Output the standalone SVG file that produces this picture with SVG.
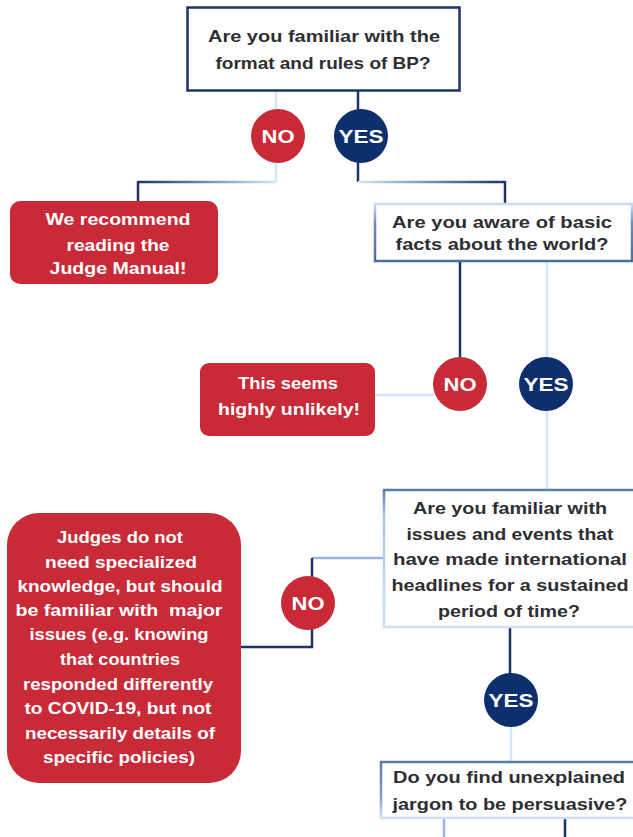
<svg xmlns="http://www.w3.org/2000/svg" width="633" height="837" viewBox="0 0 633 837">
<style>
.q{fill:#fff}
.qt{font-family:"Liberation Sans",Arial,sans-serif;font-weight:700;font-size:17px;fill:#2e2e33;text-anchor:middle;dominant-baseline:central}
.rt{font-family:"Liberation Sans",Arial,sans-serif;font-weight:700;font-size:16px;fill:#fff;text-anchor:middle;dominant-baseline:central;white-space:pre}
.ct{font-family:"Liberation Sans",Arial,sans-serif;font-weight:700;font-size:19px;fill:#fff;text-anchor:middle;dominant-baseline:central}
.red{fill:#c92a38}
.no{fill:#c92a38}
.yes{fill:#0d2f6e}
.dk{stroke:#1b3563;stroke-width:2.5;fill:none}
.lt{stroke:#d3e6fb;stroke-width:2.5;fill:none}
.sl{stroke:#9ab6de;stroke-width:2.5;fill:none}
</style>
<defs>
<linearGradient id="g1" gradientUnits="userSpaceOnUse" x1="138" y1="0" x2="276" y2="0">
<stop offset="0" stop-color="#1b3563"/><stop offset="1" stop-color="#d3e6fb"/>
</linearGradient>
<linearGradient id="g2" gradientUnits="userSpaceOnUse" x1="358" y1="0" x2="505" y2="0">
<stop offset="0" stop-color="#d3e6fb"/><stop offset="1" stop-color="#1b3563"/>
</linearGradient>
<linearGradient id="b2" x1="0" y1="0" x2="0" y2="1">
<stop offset="0" stop-color="#c9ddf5"/><stop offset="0.35" stop-color="#6d8bb8"/><stop offset="1" stop-color="#4c6c9c"/>
</linearGradient>
<linearGradient id="b3" x1="0" y1="0" x2="0" y2="1">
<stop offset="0" stop-color="#5b7bab"/><stop offset="0.2" stop-color="#a8c5ea"/><stop offset="1" stop-color="#cfe0f5"/>
</linearGradient>
<linearGradient id="b4" x1="0" y1="0" x2="0" y2="1">
<stop offset="0" stop-color="#5b7bab"/><stop offset="0.6" stop-color="#7f9cc6"/><stop offset="1" stop-color="#cfe0f5"/>
</linearGradient>
</defs>
<rect width="633" height="837" fill="#fff"/>

<g id="connectors">
<path class="lt" d="M276 91 V110"/>
<path class="dk" d="M358 91 V110"/>
<path class="lt" d="M276 162 V182"/>
<path d="M138 182 H276" stroke="url(#g1)" stroke-width="2.5"/>
<path class="dk" d="M138 181 V201"/>
<path class="dk" d="M358 162 V182"/>
<path d="M358 182 H505" stroke="url(#g2)" stroke-width="2.5"/>
<path class="dk" d="M505 181 V204"/>
<path class="dk" d="M460 261 V358"/>
<path class="lt" d="M547 261 V490"/>
<path class="lt" d="M375 395 H434"/>
<path class="sl" d="M384 558 H312"/>
<path class="dk" d="M312 558 V578"/>
<path class="dk" d="M312 628 V647 H241"/>
<path class="dk" d="M510 627 V674"/>
<path class="lt" d="M511 726 V762"/>
<path class="sl" d="M444 818 V837"/>
<path class="dk" d="M565 818 V837"/>
</g>

<g id="q1">
<rect x="187.5" y="7.5" width="272" height="83" class="q" stroke="#1b3563" stroke-width="2.5"/>
<text class="qt" x="324" y="36" textLength="232" lengthAdjust="spacingAndGlyphs">Are you familiar with the</text>
<text class="qt" x="323" y="63" textLength="215" lengthAdjust="spacingAndGlyphs">format and rules of BP?</text>
</g>

<g id="no1">
<circle cx="278" cy="136" r="27" class="no"/>
<text class="ct" x="278" y="136" textLength="33" lengthAdjust="spacingAndGlyphs">NO</text>
</g>
<g id="yes1">
<circle cx="361" cy="136" r="27" class="yes"/>
<text class="ct" x="361" y="136" textLength="45" lengthAdjust="spacingAndGlyphs">YES</text>
</g>

<g id="r1">
<rect x="10" y="201" width="208" height="83" rx="10" class="red"/>
<text class="rt" x="118" y="219" textLength="145" lengthAdjust="spacingAndGlyphs">We recommend</text>
<text class="rt" x="118" y="245" textLength="103" lengthAdjust="spacingAndGlyphs">reading the</text>
<text class="rt" x="118" y="268" textLength="137" lengthAdjust="spacingAndGlyphs">Judge Manual!</text>
</g>

<g id="q2">
<rect x="375" y="204" width="257" height="57" class="q" stroke="url(#b2)" stroke-width="2.5"/>
<text class="qt" x="502" y="222" textLength="220" lengthAdjust="spacingAndGlyphs">Are you aware of basic</text>
<text class="qt" x="502" y="244" textLength="213" lengthAdjust="spacingAndGlyphs">facts about the world?</text>
</g>

<g id="no2">
<circle cx="460" cy="384" r="27" class="no"/>
<text class="ct" x="460" y="384" textLength="33" lengthAdjust="spacingAndGlyphs">NO</text>
</g>
<g id="yes2">
<circle cx="546" cy="384" r="27" class="yes"/>
<text class="ct" x="546" y="384" textLength="45" lengthAdjust="spacingAndGlyphs">YES</text>
</g>

<g id="r2">
<rect x="200" y="363" width="175" height="73" rx="9" class="red"/>
<text class="rt" x="288" y="383" textLength="100" lengthAdjust="spacingAndGlyphs">This seems</text>
<text class="rt" x="289" y="409" textLength="142" lengthAdjust="spacingAndGlyphs">highly unlikely!</text>
</g>

<g id="q3">
<rect x="384" y="490" width="262" height="137" class="q" stroke="url(#b3)" stroke-width="2.5"/>
<text class="qt" x="510" y="508" textLength="194" lengthAdjust="spacingAndGlyphs">Are you familiar with</text>
<text class="qt" x="510" y="534" textLength="207" lengthAdjust="spacingAndGlyphs">issues and events that</text>
<text class="qt" x="510" y="559" textLength="234" lengthAdjust="spacingAndGlyphs">have made international</text>
<text class="qt" x="510" y="585" textLength="237" lengthAdjust="spacingAndGlyphs">headlines for a sustained</text>
<text class="qt" x="509" y="611" textLength="142" lengthAdjust="spacingAndGlyphs">period of time?</text>
</g>

<g id="no3">
<circle cx="308" cy="603" r="27" class="no"/>
<text class="ct" x="308" y="603" textLength="33" lengthAdjust="spacingAndGlyphs">NO</text>
</g>

<g id="r3">
<rect x="7" y="513" width="234" height="270" rx="32" class="red"/>
<text class="rt" x="120" y="537" textLength="126" lengthAdjust="spacingAndGlyphs">Judges do not</text>
<text class="rt" x="121" y="562" textLength="152" lengthAdjust="spacingAndGlyphs">need specialized</text>
<text class="rt" x="120" y="586" textLength="205" lengthAdjust="spacingAndGlyphs">knowledge, but should</text>
<text class="rt" x="119" y="610" textLength="207" lengthAdjust="spacingAndGlyphs">be familiar with  major</text>
<text class="rt" x="119" y="634" textLength="179" lengthAdjust="spacingAndGlyphs">issues (e.g. knowing</text>
<text class="rt" x="120" y="659" textLength="120" lengthAdjust="spacingAndGlyphs">that countries</text>
<text class="rt" x="118" y="684" textLength="190" lengthAdjust="spacingAndGlyphs">responded differently</text>
<text class="rt" x="118" y="708" textLength="187" lengthAdjust="spacingAndGlyphs">to COVID-19, but not</text>
<text class="rt" x="120" y="733" textLength="190" lengthAdjust="spacingAndGlyphs">necessarily details of</text>
<text class="rt" x="119" y="757" textLength="152" lengthAdjust="spacingAndGlyphs">specific policies)</text>
</g>

<g id="yes3">
<circle cx="511" cy="700" r="27" class="yes"/>
<text class="ct" x="511" y="700" textLength="45" lengthAdjust="spacingAndGlyphs">YES</text>
</g>

<g id="q4">
<rect x="381" y="762" width="262" height="56" class="q" stroke="url(#b4)" stroke-width="2.5"/>
<text class="qt" x="509" y="777" textLength="232" lengthAdjust="spacingAndGlyphs">Do you find unexplained</text>
<text class="qt" x="510" y="804" textLength="235" lengthAdjust="spacingAndGlyphs">jargon to be persuasive?</text>
</g>
</svg>
